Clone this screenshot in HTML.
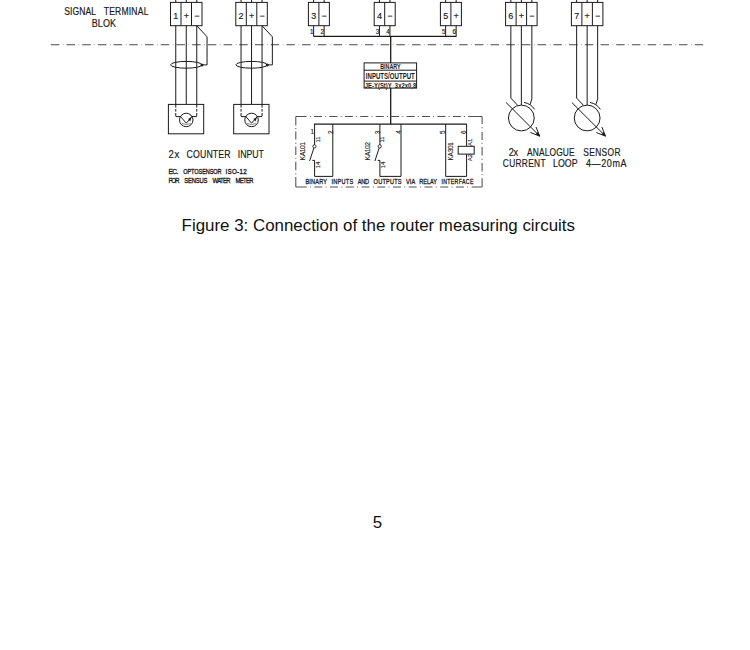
<!DOCTYPE html>
<html><head><meta charset="utf-8"><style>
html,body{margin:0;padding:0;background:#fff;}
body{width:750px;height:650px;position:relative;overflow:hidden;font-family:"Liberation Sans",sans-serif;color:#1a1a1a;}
svg{position:absolute;left:0;top:0;}
svg text{font-family:"Liberation Sans",sans-serif;white-space:pre;}
</style></head><body>
<svg width="750" height="650" viewBox="0 0 750 650">
<path d="M50.80,44.7h8.5M66.50,44.7h8.5M82.21,44.7h8.5M97.91,44.7h8.5M113.62,44.7h8.5M129.32,44.7h8.5M145.03,44.7h8.5M160.74,44.7h8.5M176.44,44.7h8.5M192.14,44.7h8.5M207.85,44.7h8.5M223.56,44.7h8.5M239.26,44.7h8.5M254.96,44.7h8.5M270.67,44.7h8.5M286.38,44.7h8.5M302.08,44.7h8.5M317.79,44.7h8.5M333.49,44.7h8.5M349.19,44.7h8.5M364.90,44.7h8.5M380.61,44.7h8.5M396.31,44.7h8.5M412.01,44.7h8.5M427.72,44.7h8.5M443.43,44.7h8.5M459.13,44.7h8.5M474.84,44.7h8.5M490.54,44.7h8.5M506.25,44.7h8.5M521.95,44.7h8.5M537.65,44.7h8.5M553.36,44.7h8.5M569.06,44.7h8.5M584.77,44.7h8.5M600.47,44.7h8.5M616.18,44.7h8.5M631.88,44.7h8.5M647.59,44.7h8.5M663.29,44.7h8.5M679.00,44.7h8.5M694.70,44.7h8.5" fill="none" stroke="#4a4a4a" stroke-width="1.05"/>
<path d="M62.90,44.7h0.8M78.60,44.7h0.8M94.31,44.7h0.8M110.01,44.7h0.8M125.72,44.7h0.8M141.42,44.7h0.8M157.13,44.7h0.8M172.84,44.7h0.8M188.54,44.7h0.8M204.24,44.7h0.8M219.95,44.7h0.8M235.66,44.7h0.8M251.36,44.7h0.8M267.06,44.7h0.8M282.77,44.7h0.8M298.48,44.7h0.8M314.18,44.7h0.8M329.89,44.7h0.8M345.59,44.7h0.8M361.30,44.7h0.8M377.00,44.7h0.8M392.71,44.7h0.8M408.41,44.7h0.8M424.12,44.7h0.8M439.82,44.7h0.8M455.53,44.7h0.8M471.23,44.7h0.8M486.94,44.7h0.8M502.64,44.7h0.8M518.35,44.7h0.8M534.05,44.7h0.8M549.75,44.7h0.8M565.46,44.7h0.8M581.16,44.7h0.8M596.87,44.7h0.8M612.57,44.7h0.8M628.28,44.7h0.8M643.99,44.7h0.8M659.69,44.7h0.8M675.39,44.7h0.8M691.10,44.7h0.8" fill="none" stroke="#999" stroke-width="1.0"/>
<rect x="170.5" y="2.4" width="31.5" height="23.3" fill="none" stroke="#1a1a1a" stroke-width="1.0"/>
<line x1="181.0" y1="2.4" x2="181.0" y2="25.7" stroke="#1a1a1a" stroke-width="1.0" />
<line x1="191.5" y1="2.4" x2="191.5" y2="25.7" stroke="#1a1a1a" stroke-width="1.0" />
<line x1="175.75" y1="0" x2="175.75" y2="2.4" stroke="#1a1a1a" stroke-width="1.0" />
<text x="0" y="0" font-size="9.0" text-anchor="middle" font-weight="normal" fill="#1a1a1a" stroke="#1a1a1a" stroke-width="0.15" transform="translate(175.75 18.6)" >1</text>
<line x1="186.25" y1="0" x2="186.25" y2="2.4" stroke="#1a1a1a" stroke-width="1.0" />
<text x="0" y="0" font-size="9.0" text-anchor="middle" font-weight="normal" fill="#1a1a1a" stroke="#1a1a1a" stroke-width="0.15" transform="translate(186.25 18.6)" >+</text>
<line x1="196.75" y1="0" x2="196.75" y2="2.4" stroke="#1a1a1a" stroke-width="1.0" />
<text x="0" y="0" font-size="9.0" text-anchor="middle" font-weight="normal" fill="#1a1a1a" stroke="#1a1a1a" stroke-width="0.15" transform="translate(196.75 18.6)" >−</text>
<rect x="235.8" y="2.4" width="31.5" height="23.3" fill="none" stroke="#1a1a1a" stroke-width="1.0"/>
<line x1="246.3" y1="2.4" x2="246.3" y2="25.7" stroke="#1a1a1a" stroke-width="1.0" />
<line x1="256.8" y1="2.4" x2="256.8" y2="25.7" stroke="#1a1a1a" stroke-width="1.0" />
<line x1="241.05" y1="0" x2="241.05" y2="2.4" stroke="#1a1a1a" stroke-width="1.0" />
<text x="0" y="0" font-size="9.0" text-anchor="middle" font-weight="normal" fill="#1a1a1a" stroke="#1a1a1a" stroke-width="0.15" transform="translate(241.05 18.6)" >2</text>
<line x1="251.55" y1="0" x2="251.55" y2="2.4" stroke="#1a1a1a" stroke-width="1.0" />
<text x="0" y="0" font-size="9.0" text-anchor="middle" font-weight="normal" fill="#1a1a1a" stroke="#1a1a1a" stroke-width="0.15" transform="translate(251.55 18.6)" >+</text>
<line x1="262.05" y1="0" x2="262.05" y2="2.4" stroke="#1a1a1a" stroke-width="1.0" />
<text x="0" y="0" font-size="9.0" text-anchor="middle" font-weight="normal" fill="#1a1a1a" stroke="#1a1a1a" stroke-width="0.15" transform="translate(262.05 18.6)" >−</text>
<rect x="308.4" y="2.4" width="21.0" height="23.3" fill="none" stroke="#1a1a1a" stroke-width="1.0"/>
<line x1="318.9" y1="2.4" x2="318.9" y2="25.7" stroke="#1a1a1a" stroke-width="1.0" />
<line x1="313.65" y1="0" x2="313.65" y2="2.4" stroke="#1a1a1a" stroke-width="1.0" />
<text x="0" y="0" font-size="9.0" text-anchor="middle" font-weight="normal" fill="#1a1a1a" stroke="#1a1a1a" stroke-width="0.15" transform="translate(313.65 18.6)" >3</text>
<line x1="324.15" y1="0" x2="324.15" y2="2.4" stroke="#1a1a1a" stroke-width="1.0" />
<text x="0" y="0" font-size="9.0" text-anchor="middle" font-weight="normal" fill="#1a1a1a" stroke="#1a1a1a" stroke-width="0.15" transform="translate(324.15 18.6)" >−</text>
<rect x="374.2" y="2.4" width="21.0" height="23.3" fill="none" stroke="#1a1a1a" stroke-width="1.0"/>
<line x1="384.7" y1="2.4" x2="384.7" y2="25.7" stroke="#1a1a1a" stroke-width="1.0" />
<line x1="379.45" y1="0" x2="379.45" y2="2.4" stroke="#1a1a1a" stroke-width="1.0" />
<text x="0" y="0" font-size="9.0" text-anchor="middle" font-weight="normal" fill="#1a1a1a" stroke="#1a1a1a" stroke-width="0.15" transform="translate(379.45 18.6)" >4</text>
<line x1="389.95" y1="0" x2="389.95" y2="2.4" stroke="#1a1a1a" stroke-width="1.0" />
<text x="0" y="0" font-size="9.0" text-anchor="middle" font-weight="normal" fill="#1a1a1a" stroke="#1a1a1a" stroke-width="0.15" transform="translate(389.95 18.6)" >−</text>
<rect x="440.4" y="2.4" width="21.0" height="23.3" fill="none" stroke="#1a1a1a" stroke-width="1.0"/>
<line x1="450.9" y1="2.4" x2="450.9" y2="25.7" stroke="#1a1a1a" stroke-width="1.0" />
<line x1="445.65" y1="0" x2="445.65" y2="2.4" stroke="#1a1a1a" stroke-width="1.0" />
<text x="0" y="0" font-size="9.0" text-anchor="middle" font-weight="normal" fill="#1a1a1a" stroke="#1a1a1a" stroke-width="0.15" transform="translate(445.65 18.6)" >5</text>
<line x1="456.15" y1="0" x2="456.15" y2="2.4" stroke="#1a1a1a" stroke-width="1.0" />
<text x="0" y="0" font-size="9.0" text-anchor="middle" font-weight="normal" fill="#1a1a1a" stroke="#1a1a1a" stroke-width="0.15" transform="translate(456.15 18.6)" >+</text>
<rect x="505.6" y="2.4" width="31.5" height="23.3" fill="none" stroke="#1a1a1a" stroke-width="1.0"/>
<line x1="516.1" y1="2.4" x2="516.1" y2="25.7" stroke="#1a1a1a" stroke-width="1.0" />
<line x1="526.6" y1="2.4" x2="526.6" y2="25.7" stroke="#1a1a1a" stroke-width="1.0" />
<line x1="510.85" y1="0" x2="510.85" y2="2.4" stroke="#1a1a1a" stroke-width="1.0" />
<text x="0" y="0" font-size="9.0" text-anchor="middle" font-weight="normal" fill="#1a1a1a" stroke="#1a1a1a" stroke-width="0.15" transform="translate(510.85 18.6)" >6</text>
<line x1="521.35" y1="0" x2="521.35" y2="2.4" stroke="#1a1a1a" stroke-width="1.0" />
<text x="0" y="0" font-size="9.0" text-anchor="middle" font-weight="normal" fill="#1a1a1a" stroke="#1a1a1a" stroke-width="0.15" transform="translate(521.35 18.6)" >+</text>
<line x1="531.85" y1="0" x2="531.85" y2="2.4" stroke="#1a1a1a" stroke-width="1.0" />
<text x="0" y="0" font-size="9.0" text-anchor="middle" font-weight="normal" fill="#1a1a1a" stroke="#1a1a1a" stroke-width="0.15" transform="translate(531.85 18.6)" >−</text>
<rect x="571.4" y="2.4" width="31.5" height="23.3" fill="none" stroke="#1a1a1a" stroke-width="1.0"/>
<line x1="581.9" y1="2.4" x2="581.9" y2="25.7" stroke="#1a1a1a" stroke-width="1.0" />
<line x1="592.4" y1="2.4" x2="592.4" y2="25.7" stroke="#1a1a1a" stroke-width="1.0" />
<line x1="576.65" y1="0" x2="576.65" y2="2.4" stroke="#1a1a1a" stroke-width="1.0" />
<text x="0" y="0" font-size="9.0" text-anchor="middle" font-weight="normal" fill="#1a1a1a" stroke="#1a1a1a" stroke-width="0.15" transform="translate(576.65 18.6)" >7</text>
<line x1="587.15" y1="0" x2="587.15" y2="2.4" stroke="#1a1a1a" stroke-width="1.0" />
<text x="0" y="0" font-size="9.0" text-anchor="middle" font-weight="normal" fill="#1a1a1a" stroke="#1a1a1a" stroke-width="0.15" transform="translate(587.15 18.6)" >+</text>
<line x1="597.65" y1="0" x2="597.65" y2="2.4" stroke="#1a1a1a" stroke-width="1.0" />
<text x="0" y="0" font-size="9.0" text-anchor="middle" font-weight="normal" fill="#1a1a1a" stroke="#1a1a1a" stroke-width="0.15" transform="translate(597.65 18.6)" >−</text>
<line x1="175.75" y1="25.7" x2="175.75" y2="104.4" stroke="#1a1a1a" stroke-width="1.0" />
<line x1="186.25" y1="25.7" x2="186.25" y2="104.4" stroke="#1a1a1a" stroke-width="1.0" />
<line x1="196.75" y1="25.7" x2="196.75" y2="104.4" stroke="#1a1a1a" stroke-width="1.0" />
<polyline points="196.75,25.7 207.05,36.8 207.05,64.9 202.25,64.9" fill="none" stroke="#1a1a1a" stroke-width="1.0" />
<ellipse cx="186.25" cy="64.8" rx="15.6" ry="3.4" fill="none" stroke="#1a1a1a" stroke-width="1.0"/>
<circle cx="201.95" cy="64.9" r="1.5" fill="#1a1a1a"/>
<rect x="168.4" y="104.4" width="35.3" height="29.4" fill="none" stroke="#1a1a1a" stroke-width="1.0"/>
<line x1="175.75" y1="104.4" x2="175.75" y2="116.6" stroke="#1a1a1a" stroke-width="1.0" stroke-dasharray="3.2 1.4 2.6 1.4"/>
<line x1="196.75" y1="104.4" x2="196.75" y2="116.6" stroke="#1a1a1a" stroke-width="1.0" stroke-dasharray="3.2 1.4 2.6 1.4"/>
<line x1="175.75" y1="116.6" x2="180.95" y2="116.6" stroke="#1a1a1a" stroke-width="1.0" />
<line x1="196.75" y1="116.6" x2="191.55" y2="116.6" stroke="#1a1a1a" stroke-width="1.0" />
<circle cx="186.25" cy="119.95" r="6.75" fill="none" stroke="#1a1a1a" stroke-width="1.0"/>
<polyline points="180.65,116.6 186.25,123.2 192.05,116.6" fill="none" stroke="#1a1a1a" stroke-width="1.0" />
<path d="M181.85,123.4 Q186.25,125.8 190.65,123.4" fill="none" stroke="#555" stroke-width="0.7"/>
<polygon points="191.65,116.9 188.15,119.0 190.15,121.4" fill="#1a1a1a"/>
<line x1="241.05" y1="25.7" x2="241.05" y2="104.4" stroke="#1a1a1a" stroke-width="1.0" />
<line x1="251.55" y1="25.7" x2="251.55" y2="104.4" stroke="#1a1a1a" stroke-width="1.0" />
<line x1="262.05" y1="25.7" x2="262.05" y2="104.4" stroke="#1a1a1a" stroke-width="1.0" />
<polyline points="262.05,25.7 272.35,36.8 272.35,64.9 267.55,64.9" fill="none" stroke="#1a1a1a" stroke-width="1.0" />
<ellipse cx="251.55" cy="64.8" rx="15.6" ry="3.4" fill="none" stroke="#1a1a1a" stroke-width="1.0"/>
<circle cx="267.25" cy="64.9" r="1.5" fill="#1a1a1a"/>
<rect x="233.7" y="104.4" width="35.3" height="29.4" fill="none" stroke="#1a1a1a" stroke-width="1.0"/>
<line x1="241.05" y1="104.4" x2="241.05" y2="116.6" stroke="#1a1a1a" stroke-width="1.0" stroke-dasharray="3.2 1.4 2.6 1.4"/>
<line x1="262.05" y1="104.4" x2="262.05" y2="116.6" stroke="#1a1a1a" stroke-width="1.0" stroke-dasharray="3.2 1.4 2.6 1.4"/>
<line x1="241.05" y1="116.6" x2="246.25" y2="116.6" stroke="#1a1a1a" stroke-width="1.0" />
<line x1="262.05" y1="116.6" x2="256.85" y2="116.6" stroke="#1a1a1a" stroke-width="1.0" />
<circle cx="251.55" cy="119.95" r="6.75" fill="none" stroke="#1a1a1a" stroke-width="1.0"/>
<polyline points="245.95000000000002,116.6 251.55,123.2 257.35,116.6" fill="none" stroke="#1a1a1a" stroke-width="1.0" />
<path d="M247.15,123.4 Q251.55,125.8 255.95000000000002,123.4" fill="none" stroke="#555" stroke-width="0.7"/>
<polygon points="256.95,116.9 253.45000000000002,119.0 255.45000000000002,121.4" fill="#1a1a1a"/>
<line x1="313.65" y1="25.7" x2="313.65" y2="36.4" stroke="#1a1a1a" stroke-width="1.0" />
<line x1="324.15" y1="25.7" x2="324.15" y2="36.4" stroke="#1a1a1a" stroke-width="1.0" />
<line x1="379.45" y1="25.7" x2="379.45" y2="36.4" stroke="#1a1a1a" stroke-width="1.0" />
<line x1="389.95" y1="25.7" x2="389.95" y2="36.4" stroke="#1a1a1a" stroke-width="1.0" />
<line x1="445.65" y1="25.7" x2="445.65" y2="36.4" stroke="#1a1a1a" stroke-width="1.0" />
<line x1="456.15" y1="25.7" x2="456.15" y2="36.4" stroke="#1a1a1a" stroke-width="1.0" />
<line x1="313.65" y1="36.4" x2="456.4" y2="36.4" stroke="#1a1a1a" stroke-width="1.3" />
<text x="0" y="0" font-size="6.3" text-anchor="middle" font-weight="normal" fill="#1a1a1a" stroke="#1a1a1a" stroke-width="0.15" transform="translate(311.65 34.0)" >1</text>
<text x="0" y="0" font-size="6.3" text-anchor="middle" font-weight="normal" fill="#1a1a1a" stroke="#1a1a1a" stroke-width="0.15" transform="translate(322.15 34.0)" >2</text>
<text x="0" y="0" font-size="6.3" text-anchor="middle" font-weight="normal" fill="#1a1a1a" stroke="#1a1a1a" stroke-width="0.15" transform="translate(377.45 34.0)" >3</text>
<text x="0" y="0" font-size="6.3" text-anchor="middle" font-weight="normal" fill="#1a1a1a" stroke="#1a1a1a" stroke-width="0.15" transform="translate(387.95 34.0)" >4</text>
<text x="0" y="0" font-size="6.3" text-anchor="middle" font-weight="normal" fill="#1a1a1a" stroke="#1a1a1a" stroke-width="0.15" transform="translate(443.65 34.0)" >5</text>
<text x="0" y="0" font-size="6.3" text-anchor="middle" font-weight="normal" fill="#1a1a1a" stroke="#1a1a1a" stroke-width="0.15" transform="translate(454.15 34.0)" >6</text>
<line x1="390.7" y1="36.4" x2="390.7" y2="62.9" stroke="#1a1a1a" stroke-width="1.3" />
<line x1="390.7" y1="88.1" x2="390.7" y2="124.2" stroke="#1a1a1a" stroke-width="1.3" />
<rect x="364.1" y="62.9" width="52.5" height="25.2" fill="none" stroke="#1a1a1a" stroke-width="1.0"/>
<line x1="364.1" y1="70.2" x2="416.6" y2="70.2" stroke="#1a1a1a" stroke-width="1.0" />
<line x1="364.1" y1="81.1" x2="416.6" y2="81.1" stroke="#1a1a1a" stroke-width="1.0" />
<text x="0" y="0" font-size="6.8" text-anchor="middle" font-weight="bold" fill="#1a1a1a" textLength="20.50" lengthAdjust="spacingAndGlyphs" transform="translate(390.4 69.2)" >BINARY</text>
<text x="0" y="0" font-size="8.2" text-anchor="middle" font-weight="bold" fill="#1a1a1a" textLength="49.00" lengthAdjust="spacingAndGlyphs" transform="translate(390.3 79.0)" >INPUTS/OUTPUT</text>
<text x="0" y="0" font-size="7.0" text-anchor="middle" font-weight="bold" fill="#1a1a1a" textLength="51.40" lengthAdjust="spacingAndGlyphs" transform="translate(390.5 88.0)" >JE-Y(St)Y  3x2x0,8</text>
<path d="M295.80,116.4H306.60M314.00,116.4H322.00M329.43,116.4H337.43M344.86,116.4H352.86M360.29,116.4H368.29M375.72,116.4H383.72M391.15,116.4H399.15M406.58,116.4H414.58M422.01,116.4H430.01M437.44,116.4H445.44M452.87,116.4H460.87M468.30,116.4H482.10M309.85,116.4H310.75M325.25,116.4H326.15M340.68,116.4H341.58M356.11,116.4H357.01M371.54,116.4H372.44M386.97,116.4H387.87M402.40,116.4H403.30M417.83,116.4H418.73M433.26,116.4H434.16M448.69,116.4H449.59M464.12,116.4H465.02" fill="none" stroke="#505050" stroke-width="1.05"/>
<path d="M295.80,187.0H306.70M314.30,187.0H322.30M330.04,187.0H338.04M345.78,187.0H353.78M361.52,187.0H369.52M377.26,187.0H385.26M393.00,187.0H401.00M408.74,187.0H416.74M424.48,187.0H432.48M440.22,187.0H448.22M455.96,187.0H463.96M471.70,187.0H482.10M310.00,187.0H310.90M325.60,187.0H326.50M341.34,187.0H342.24M357.08,187.0H357.98M372.82,187.0H373.72M388.56,187.0H389.46M404.30,187.0H405.20M420.04,187.0H420.94M435.78,187.0H436.68M451.52,187.0H452.42M467.26,187.0H468.16" fill="none" stroke="#505050" stroke-width="1.05"/>
<path d="M295.8,116.40V125.40M295.8,131.40V139.60M295.8,146.40V155.00M295.8,161.70V170.30M295.8,177.00V187.00M295.8,128.05V128.95M295.8,142.75V143.65M295.8,158.15V159.05M295.8,173.55V174.45" fill="none" stroke="#505050" stroke-width="1.05"/>
<path d="M482.1,116.40V124.10M482.1,132.10V140.10M482.1,146.90V155.50M482.1,162.90V171.50M482.1,178.30V187.00M482.1,127.35V128.25M482.1,142.75V143.65M482.1,158.75V159.65M482.1,174.15V175.05" fill="none" stroke="#505050" stroke-width="1.05"/>
<line x1="313.9" y1="124.2" x2="466.9" y2="124.2" stroke="#1a1a1a" stroke-width="1.3" />
<line x1="314.6" y1="124.2" x2="314.6" y2="144.9" stroke="#1a1a1a" stroke-width="1.0" />
<circle cx="314.40000000000003" cy="146.4" r="1.6" fill="none" stroke="#1a1a1a" stroke-width="0.9"/>
<line x1="313.90000000000003" y1="147.9" x2="309.6" y2="161.0" stroke="#1a1a1a" stroke-width="1.0" />
<polyline points="312.40000000000003,160.4 314.6,160.4 314.6,176.4 332.8,176.4 332.8,124.2" fill="none" stroke="#1a1a1a" stroke-width="1.0" />
<text x="0" y="0" font-size="8.0" text-anchor="middle" font-weight="normal" fill="#1a1a1a" stroke="#1a1a1a" stroke-width="0.12" textLength="21.65" lengthAdjust="spacing" transform="translate(304.5 151.2) rotate(-90) scale(0.85 1)" >KA101</text>
<line x1="379.9" y1="124.2" x2="379.9" y2="144.9" stroke="#1a1a1a" stroke-width="1.0" />
<circle cx="379.7" cy="146.4" r="1.6" fill="none" stroke="#1a1a1a" stroke-width="0.9"/>
<line x1="379.2" y1="147.9" x2="374.9" y2="161.0" stroke="#1a1a1a" stroke-width="1.0" />
<polyline points="377.7,160.4 379.9,160.4 379.9,176.4 401.0,176.4 401.0,124.2" fill="none" stroke="#1a1a1a" stroke-width="1.0" />
<text x="0" y="0" font-size="8.0" text-anchor="middle" font-weight="normal" fill="#1a1a1a" stroke="#1a1a1a" stroke-width="0.12" textLength="21.65" lengthAdjust="spacing" transform="translate(369.79999999999995 151.2) rotate(-90) scale(0.85 1)" >KA102</text>
<polyline points="445.7,124.2 445.7,176.4 466.6,176.4 466.6,154.1" fill="none" stroke="#1a1a1a" stroke-width="1.0" />
<line x1="466.6" y1="124.2" x2="466.6" y2="146.3" stroke="#1a1a1a" stroke-width="1.0" />
<rect x="458.2" y="146.3" width="16" height="7.8" fill="none" stroke="#1a1a1a" stroke-width="1.0"/>
<text x="0" y="0" font-size="7.6" text-anchor="middle" font-weight="normal" fill="#1a1a1a" stroke="#1a1a1a" stroke-width="0.12" textLength="21.65" lengthAdjust="spacing" transform="translate(453.0 151.3) rotate(-90) scale(0.85 1)" >KA301</text>
<text x="0" y="0" font-size="6.5" text-anchor="middle" font-weight="normal" fill="#1a1a1a" stroke="#1a1a1a" stroke-width="0.12" transform="translate(312.2 134.2)" >1</text>
<text x="0" y="0" font-size="6.3" text-anchor="middle" font-weight="normal" fill="#1a1a1a" stroke="#1a1a1a" stroke-width="0.12" transform="translate(332.6 132.2) rotate(-90)" >2</text>
<text x="0" y="0" font-size="6.0" text-anchor="middle" font-weight="normal" fill="#1a1a1a" stroke="#1a1a1a" stroke-width="0.12" transform="translate(320.3 139.5) rotate(-90)" >11</text>
<text x="0" y="0" font-size="6.0" text-anchor="middle" font-weight="normal" fill="#1a1a1a" stroke="#1a1a1a" stroke-width="0.12" transform="translate(319.7 165.0) rotate(-90)" >14</text>
<text x="0" y="0" font-size="6.3" text-anchor="middle" font-weight="normal" fill="#1a1a1a" stroke="#1a1a1a" stroke-width="0.12" transform="translate(379.7 132.4) rotate(-90)" >3</text>
<text x="0" y="0" font-size="6.3" text-anchor="middle" font-weight="normal" fill="#1a1a1a" stroke="#1a1a1a" stroke-width="0.12" transform="translate(400.6 132.0) rotate(-90)" >4</text>
<text x="0" y="0" font-size="6.0" text-anchor="middle" font-weight="normal" fill="#1a1a1a" stroke="#1a1a1a" stroke-width="0.12" transform="translate(384.4 139.5) rotate(-90)" >11</text>
<text x="0" y="0" font-size="6.0" text-anchor="middle" font-weight="normal" fill="#1a1a1a" stroke="#1a1a1a" stroke-width="0.12" transform="translate(385.2 165.0) rotate(-90)" >14</text>
<text x="0" y="0" font-size="6.3" text-anchor="middle" font-weight="normal" fill="#1a1a1a" stroke="#1a1a1a" stroke-width="0.12" transform="translate(445.2 132.2) rotate(-90)" >5</text>
<text x="0" y="0" font-size="6.3" text-anchor="middle" font-weight="normal" fill="#1a1a1a" stroke="#1a1a1a" stroke-width="0.12" transform="translate(466.2 132.2) rotate(-90)" >6</text>
<text x="0" y="0" font-size="6.0" text-anchor="middle" font-weight="normal" fill="#1a1a1a" stroke="#1a1a1a" stroke-width="0.12" transform="translate(471.7 142.3) rotate(-90)" >A1</text>
<text x="0" y="0" font-size="6.0" text-anchor="middle" font-weight="normal" fill="#1a1a1a" stroke="#1a1a1a" stroke-width="0.12" transform="translate(471.7 157.7) rotate(-90)" >A2</text>
<polyline points="510.85,25.7 510.85,98.1 517.5500000000001,105.2" fill="none" stroke="#1a1a1a" stroke-width="1.0" />
<line x1="521.35" y1="25.7" x2="521.35" y2="105.1" stroke="#1a1a1a" stroke-width="1.0" />
<path d="M531.85,25.7 L531.85,98.9 L530.0500000000001,104.6" fill="none" stroke="#1a1a1a" stroke-width="1.0"/>
<circle cx="521.35" cy="118.0" r="12.9" fill="none" stroke="#1a1a1a" stroke-width="1.0"/>
<path d="M524.09,102.44 A15.8,15.8 0 0 1 534.60,109.39" fill="none" stroke="#1a1a1a" stroke-width="1.0"/>
<line x1="506.05" y1="102.5" x2="538.75" y2="135.2" stroke="#1a1a1a" stroke-width="1.0" />
<polyline points="530.55,132.5 539.75,136.2 536.05,126.99999999999999" fill="none" stroke="#1a1a1a" stroke-width="1.0"/>
<polygon points="540.05,136.5 535.55,134.2 537.75,132.0" fill="#1a1a1a"/>
<polyline points="576.65,25.7 576.65,98.1 583.35,105.2" fill="none" stroke="#1a1a1a" stroke-width="1.0" />
<line x1="587.15" y1="25.7" x2="587.15" y2="105.1" stroke="#1a1a1a" stroke-width="1.0" />
<path d="M597.65,25.7 L597.65,98.9 L595.85,104.6" fill="none" stroke="#1a1a1a" stroke-width="1.0"/>
<circle cx="587.15" cy="118.0" r="12.9" fill="none" stroke="#1a1a1a" stroke-width="1.0"/>
<path d="M589.89,102.44 A15.8,15.8 0 0 1 600.40,109.39" fill="none" stroke="#1a1a1a" stroke-width="1.0"/>
<line x1="571.85" y1="102.5" x2="604.55" y2="135.2" stroke="#1a1a1a" stroke-width="1.0" />
<polyline points="596.3499999999999,132.5 605.55,136.2 601.8499999999999,126.99999999999999" fill="none" stroke="#1a1a1a" stroke-width="1.0"/>
<polygon points="605.8499999999999,136.5 601.3499999999999,134.2 603.55,132.0" fill="#1a1a1a"/>
<text x="0" y="0" font-size="10.2" text-anchor="start" font-weight="normal" fill="#1a1a1a" stroke="#1a1a1a" stroke-width="0.18" textLength="37.86" lengthAdjust="spacing" transform="translate(64.20000000000002 14.6) scale(0.84 1)" >SIGNAL</text>
<text x="0" y="0" font-size="10.2" text-anchor="start" font-weight="normal" fill="#1a1a1a" stroke="#1a1a1a" stroke-width="0.18" textLength="53.10" lengthAdjust="spacing" transform="translate(103.79999999999998 14.6) scale(0.84 1)" >TERMINAL</text>
<text x="0" y="0" font-size="10.2" text-anchor="start" font-weight="normal" fill="#1a1a1a" stroke="#1a1a1a" stroke-width="0.18" textLength="27.50" lengthAdjust="spacing" transform="translate(91.79999999999998 27.2) scale(0.88 1)" >BLOK</text>
<text x="0" y="0" font-size="10.4" text-anchor="start" font-weight="normal" fill="#1a1a1a" stroke="#1a1a1a" stroke-width="0.18" textLength="11.52" lengthAdjust="spacing" transform="translate(168.60000000000005 157.9) scale(0.92 1)" >2x</text>
<text x="0" y="0" font-size="10.4" text-anchor="start" font-weight="normal" fill="#1a1a1a" stroke="#1a1a1a" stroke-width="0.18" textLength="52.38" lengthAdjust="spacing" transform="translate(186.60000000000005 157.9) scale(0.84 1)" >COUNTER</text>
<text x="0" y="0" font-size="10.4" text-anchor="start" font-weight="normal" fill="#1a1a1a" stroke="#1a1a1a" stroke-width="0.18" textLength="30.95" lengthAdjust="spacing" transform="translate(237.79999999999998 157.9) scale(0.84 1)" >INPUT</text>
<text x="0" y="0" font-size="10.0" text-anchor="start" font-weight="normal" fill="#1a1a1a" stroke="#1a1a1a" stroke-width="0.18" textLength="10.00" lengthAdjust="spacing" transform="translate(508.80000000000007 155.8) scale(0.92 1)" >2x</text>
<text x="0" y="0" font-size="10.0" text-anchor="start" font-weight="normal" fill="#1a1a1a" stroke="#1a1a1a" stroke-width="0.18" textLength="56.67" lengthAdjust="spacing" transform="translate(526.9999999999999 155.8) scale(0.84 1)" >ANALOGUE</text>
<text x="0" y="0" font-size="10.0" text-anchor="start" font-weight="normal" fill="#1a1a1a" stroke="#1a1a1a" stroke-width="0.18" textLength="44.52" lengthAdjust="spacing" transform="translate(583.2000000000002 155.8) scale(0.84 1)" >SENSOR</text>
<text x="0" y="0" font-size="10.0" text-anchor="start" font-weight="normal" fill="#1a1a1a" stroke="#1a1a1a" stroke-width="0.18" textLength="50.95" lengthAdjust="spacing" transform="translate(502.80000000000007 166.8) scale(0.84 1)" >CURRENT</text>
<text x="0" y="0" font-size="10.0" text-anchor="start" font-weight="normal" fill="#1a1a1a" stroke="#1a1a1a" stroke-width="0.18" textLength="27.95" lengthAdjust="spacing" transform="translate(552.9999999999999 166.8) scale(0.88 1)" >LOOP</text>
<text x="0" y="0" font-size="10.0" text-anchor="start" font-weight="normal" fill="#1a1a1a" stroke="#1a1a1a" stroke-width="0.18" textLength="45.11" lengthAdjust="spacing" transform="translate(585.9999999999999 166.8) scale(0.9 1)" >4—20mA</text>
<text x="0" y="0" font-size="7.8" text-anchor="start" font-weight="normal" fill="#1a1a1a" stroke="#1a1a1a" stroke-width="0.35" textLength="11.76" lengthAdjust="spacing" transform="translate(168.4 174.0) scale(0.85 1)" >EC.</text>
<text x="0" y="0" font-size="7.8" text-anchor="start" font-weight="normal" fill="#1a1a1a" stroke="#1a1a1a" stroke-width="0.35" textLength="53.33" lengthAdjust="spacing" transform="translate(183.19999999999996 174.0) scale(0.72 1)" >OPTOSENSOR</text>
<text x="0" y="0" font-size="7.8" text-anchor="start" font-weight="normal" fill="#1a1a1a" stroke="#1a1a1a" stroke-width="0.35" textLength="26.75" lengthAdjust="spacing" transform="translate(225.4 174.0) scale(0.8 1)" >ISO-12</text>
<text x="0" y="0" font-size="7.8" text-anchor="start" font-weight="normal" fill="#1a1a1a" stroke="#1a1a1a" stroke-width="0.35" textLength="14.00" lengthAdjust="spacing" transform="translate(168.4 183.0) scale(0.8 1)" >FOR</text>
<text x="0" y="0" font-size="7.8" text-anchor="start" font-weight="normal" fill="#1a1a1a" stroke="#1a1a1a" stroke-width="0.35" textLength="30.93" lengthAdjust="spacing" transform="translate(184.19999999999996 183.0) scale(0.75 1)" >SENSUS</text>
<text x="0" y="0" font-size="7.8" text-anchor="start" font-weight="normal" fill="#1a1a1a" stroke="#1a1a1a" stroke-width="0.35" textLength="23.73" lengthAdjust="spacing" transform="translate(212.60000000000005 183.0) scale(0.75 1)" >WATER</text>
<text x="0" y="0" font-size="7.8" text-anchor="start" font-weight="normal" fill="#1a1a1a" stroke="#1a1a1a" stroke-width="0.35" textLength="23.73" lengthAdjust="spacing" transform="translate(235.60000000000005 183.0) scale(0.75 1)" >METER</text>
<text x="0" y="0" font-size="7.0" text-anchor="start" font-weight="normal" fill="#1a1a1a" stroke="#1a1a1a" stroke-width="0.3" textLength="27.00" lengthAdjust="spacing" transform="translate(305.4 183.7) scale(0.8 1)" >BINARY</text>
<text x="0" y="0" font-size="7.0" text-anchor="start" font-weight="normal" fill="#1a1a1a" stroke="#1a1a1a" stroke-width="0.3" textLength="27.00" lengthAdjust="spacing" transform="translate(331.6 183.7) scale(0.8 1)" >INPUTS</text>
<text x="0" y="0" font-size="7.0" text-anchor="start" font-weight="normal" fill="#1a1a1a" stroke="#1a1a1a" stroke-width="0.3" textLength="14.00" lengthAdjust="spacing" transform="translate(357.80000000000007 183.7) scale(0.8 1)" >AND</text>
<text x="0" y="0" font-size="7.0" text-anchor="start" font-weight="normal" fill="#1a1a1a" stroke="#1a1a1a" stroke-width="0.3" textLength="35.00" lengthAdjust="spacing" transform="translate(373.6 183.7) scale(0.8 1)" >OUTPUTS</text>
<text x="0" y="0" font-size="7.0" text-anchor="start" font-weight="normal" fill="#1a1a1a" stroke="#1a1a1a" stroke-width="0.3" textLength="11.50" lengthAdjust="spacing" transform="translate(405.9999999999999 183.7) scale(0.8 1)" >VIA</text>
<text x="0" y="0" font-size="7.0" text-anchor="start" font-weight="normal" fill="#1a1a1a" stroke="#1a1a1a" stroke-width="0.3" textLength="22.25" lengthAdjust="spacing" transform="translate(419.19999999999993 183.7) scale(0.8 1)" >RELAY</text>
<text x="0" y="0" font-size="7.0" text-anchor="start" font-weight="normal" fill="#1a1a1a" stroke="#1a1a1a" stroke-width="0.3" textLength="42.67" lengthAdjust="spacing" transform="translate(441.4 183.7) scale(0.75 1)" >INTERFACE</text>
<text x="0" y="0" font-size="16.9" text-anchor="start" font-weight="normal" fill="#111" transform="translate(181.6 230.9)" >Figure 3: Connection of the router measuring circuits</text>
<text x="0" y="0" font-size="16.9" text-anchor="start" font-weight="normal" fill="#111" transform="translate(372.8 527.8)" >5</text>
</svg>


</body></html>
